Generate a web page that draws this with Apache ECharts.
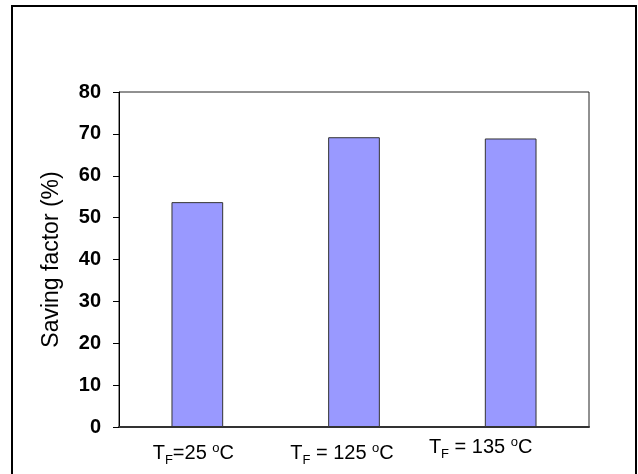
<!DOCTYPE html>
<html>
<head>
<meta charset="utf-8">
<script src="https://cdn.jsdelivr.net/npm/echarts@6/dist/echarts.min.js"></script>
<style>html,body{margin:0;padding:0;background:#fff}#c{width:638px;height:474px}</style>
</head>
<body>
<div id="c"></div>
<script>
var categories = ['TF=25 oC', 'TF = 125 oC', 'TF = 135 oC'];
var labelParts = [
  ['T', 'F', '=25 ', 'o', 'C'],
  ['T', 'F', ' = 125 ', 'o', 'C'],
  ['T', 'F', ' = 135 ', 'o', 'C']
];
var savingFactor = [53.7, 69.2, 68.9];
var yTicks = [0, 10, 20, 30, 40, 50, 60, 70, 80];

var font = 'Liberation Sans, Arial, sans-serif';
var shifts = [8, 24, 60];   // right padding to shift label left
var lifts = [0, 0, 6];      // bottom padding to lift label

var rich = {};
[0,1,2].forEach(function(i){
  var pr = shifts[i], pb = lifts[i];
  rich['t'+i] = {fontFamily: font, fontSize: 20, color: '#000', padding: [0,0,pb,0]};
  rich['s'+i] = {fontFamily: font, fontSize: 13, color: '#000', padding: [14,0,pb,0]};
  rich['u'+i] = {fontFamily: font, fontSize: 13, color: '#000', padding: [0,0,10+pb,0]};
  rich['e'+i] = {fontFamily: font, fontSize: 20, color: '#000', padding: [0,pr,pb,0]};
});

var chart = echarts.init(document.getElementById('c'), null, {renderer: 'canvas'});
chart.setOption({
  backgroundColor: '#fff',
  animation: false,
  graphic: [{
    type: 'rect',
    shape: {x: 12, y: 6, width: 624, height: 480},
    style: {fill: 'none', stroke: '#000', lineWidth: 2},
    silent: true
  }],
  grid: {left: 119, right: 49, top: 92, bottom: 47, show: true, borderColor: '#222', borderWidth: 1, backgroundColor: 'transparent'},
  xAxis: {
    type: 'category',
    data: categories,
    axisLine: {lineStyle: {color: '#333', width: 2}},
    axisTick: {show: false},
    axisLabel: {
      interval: 0,
      hideOverlap: false,
      margin: 40,
      verticalAlign: 'bottom',
      formatter: function(v, idx){
        var p = labelParts[idx];
        return '{t'+idx+'|'+p[0]+'}{s'+idx+'|'+p[1]+'}{t'+idx+'|'+p[2]+'}{u'+idx+'|'+p[3]+'}{e'+idx+'|'+p[4]+'}';
      },
      rich: rich
    }
  },
  yAxis: {
    type: 'value',
    min: yTicks[0],
    max: yTicks[yTicks.length-1],
    interval: 10,
    name: 'Saving factor (%)',
    nameLocation: 'middle',
    nameGap: 56,
    nameTextStyle: {fontFamily: font, fontSize: 23, color: '#000'},
    axisLine: {show: true, lineStyle: {color: '#000', width: 1}},
    axisTick: {show: true, length: 6, lineStyle: {color: '#000'}},
    splitLine: {show: false},
    axisLabel: {margin: 18, fontFamily: font, fontSize: 20, fontWeight: 'bold', color: '#000'}
  },
  series: [{
    type: 'bar',
    data: savingFactor,
    barWidth: '33%',
    itemStyle: {color: '#9999FF', borderColor: '#333', borderWidth: 1}
  }]
});
</script>
</body>
</html>
